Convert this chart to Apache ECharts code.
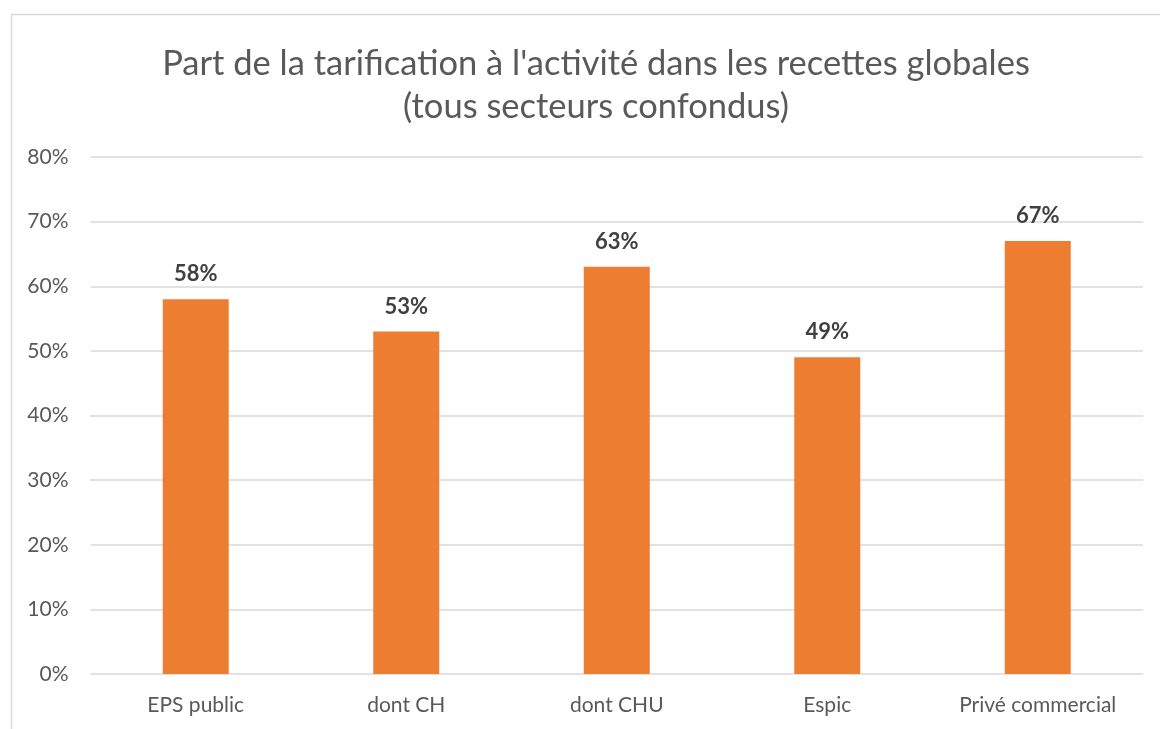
<!DOCTYPE html>
<html><head><meta charset="utf-8">
<script src="https://cdn.jsdelivr.net/npm/echarts@6/dist/echarts.min.js"></script>
<style>html,body{margin:0;padding:0;background:#fff}#c{width:1160px;height:729px}</style>
</head><body><div id="c"></div>
<script>
const categories = ['EPS public', 'dont CH', 'dont CHU', 'Espic', 'Privé commercial'];
const values = [58, 53, 63, 49, 67];
const titleLines = ["Part de la tarification à l'activité dans les recettes globales", "(tous secteurs confondus)"];

const chart = echarts.init(document.getElementById('c'));
const font = 'Lato, "Open Sans", sans-serif';
chart.setOption({
  animation: false,
  graphic: [{
    type: 'rect', left: 9, top: 12, shape: {width: 1300, height: 900},
    style: {fill: 'none', stroke: '#d9d9d9', lineWidth: 1.5}, silent: true
  }],
  title: {
    text: titleLines.join('\n'), left: 591, top: 37, textAlign: 'center',
    textStyle: {fontFamily: font, fontSize: 34.5, fontWeight: 'normal', color: '#595959', lineHeight: 43}
  },
  grid: {left: 90.5, right: 17, top: 157, bottom: 55, containLabel: false},
  xAxis: {
    type: 'category', data: categories,
    axisLine: {show: false}, axisTick: {show: false},
    axisLabel: {fontFamily: font, fontSize: 21, color: '#595959', margin: 21}
  },
  yAxis: {
    type: 'value', min: 0, max: 80, interval: 10,
    axisLabel: {formatter: '{value}%', fontFamily: font, fontSize: 21, color: '#595959', margin: 22},
    splitLine: {lineStyle: {color: '#d9d9d9', width: 1.5}},
    axisLine: {show: false}, axisTick: {show: false}
  },
  series: [{
    type: 'bar', data: values, barWidth: 66,
    itemStyle: {color: '#ED7D31'},
    label: {show: true, position: 'top', formatter: '{c}%', distance: 14,
      fontFamily: font, fontSize: 22, fontWeight: 'bold', color: '#404040'}
  }]
});
</script></body></html>
